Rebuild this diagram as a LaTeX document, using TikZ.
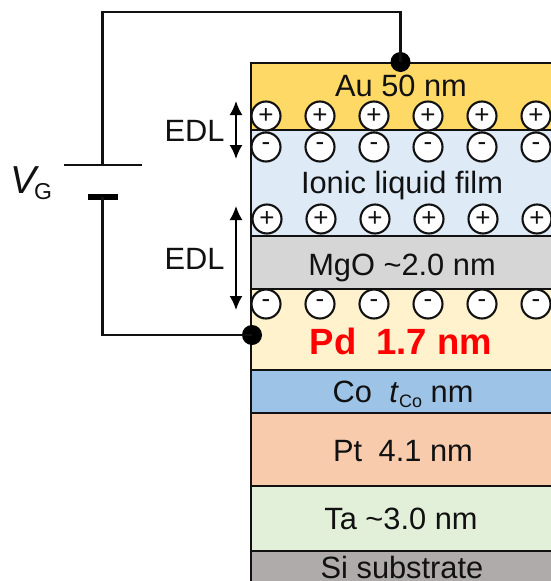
\documentclass[tikz,border=0pt]{standalone}
\usepackage{fontspec}
\setmainfont{Liberation Sans}
\usetikzlibrary{arrows.meta}
\definecolor{inkc}{HTML}{111111}
\tikzset{
  layer/.style={draw=inkc,line width=2pt},
  lbl/.style={font=\fontsize{30.8}{33}\selectfont,text=inkc,inner sep=0pt,anchor=base},
  ion/.style={circle,draw=inkc,line width=2.1pt,fill=white,minimum size=29pt,inner sep=0pt,font=\fontsize{26}{26}\selectfont,text=inkc},
  wire/.style={draw=inkc,line width=2.2pt},
  dot/.style={circle,fill=black,minimum size=20pt,inner sep=0pt},
  edl/.style={draw=black,line width=1.9pt,{Latex[length=14pt,width=13pt]}-{Latex[length=14pt,width=13pt]}}
}
\begin{document}
\begin{tikzpicture}[x=1pt,y=-1pt]
\useasboundingbox (0,0) rectangle (550,581);
\fill[white] (0,0) rectangle (550,581);
% layers
\path[layer,fill={rgb,255:red,255;green,217;blue,102}] (251,63) rectangle (560,130);
\path[layer,fill={rgb,255:red,222;green,235;blue,247}] (251,130) rectangle (560,236);
\path[layer,fill={rgb,255:red,214;green,214;blue,214}] (251,236) rectangle (560,289);
\path[layer,fill={rgb,255:red,255;green,242;blue,204}] (251,289) rectangle (560,370);
\path[layer,fill={rgb,255:red,157;green,195;blue,230}] (251,370) rectangle (560,413);
\path[layer,fill={rgb,255:red,248;green,203;blue,173}] (251,413) rectangle (560,486);
\path[layer,fill={rgb,255:red,226;green,240;blue,217}] (251,486) rectangle (560,551);
\path[layer,fill={rgb,255:red,175;green,171;blue,171}] (251,551) rectangle (560,600);
% ions
\foreach \n/\x in {1/266,2/320,3/374,4/428,5/482,6/536}{
  \node[ion] (pa\n) at (\x,116) {+};
  \node[ion] (ma\n) at (\x,147) {-};
  \node[ion] (pb\n) at (\x+1,219) {+};
  \node[ion] (mb\n) at (\x,304) {-};
}
% labels
\node[lbl] (au) at (401,96) {Au 50 nm};
\node[lbl] (il) at (402,193) {Ionic liquid film};
\node[lbl] (mg) at (402,275) {MgO \textasciitilde2.0 nm};
\node[lbl,font=\fontsize{36.5}{38}\selectfont\bfseries,text={rgb,255:red,255;green,0;blue,0}] (pd) at (401,354) {Pd\hspace{10pt} 1.7 nm};
\node[lbl] (co) at (403,402) {Co\hspace{9pt} \textit{t}\raisebox{-5pt}{\fontsize{18}{18}\selectfont Co} nm};
\node[lbl] (pt) at (403,461) {Pt\hspace{8pt} 4.1 nm};
\node[lbl] (ta) at (401,529) {Ta \textasciitilde3.0 nm};
\node[lbl] (si) at (402,578) {Si substrate};
\node[lbl] (e1) at (194.5,141) {EDL};
\node[lbl] (e2) at (194.5,269) {EDL};
\node[lbl,anchor=base west,font=\fontsize{39}{39}\selectfont] (vg) at (10,193) {\textit{V}\hspace{-5pt}\raisebox{-6pt}{\fontsize{23}{23}\selectfont G}};
% electrodes
\node[dot] (d1) at (400.5,62) {};
\node[dot] (d2) at (252,335) {};
% battery
\coordinate (bt) at (102.5,165);
\coordinate (bb) at (102.5,197);
\coordinate (bl) at (64,165);
\coordinate (br) at (142,165);
\coordinate (sl) at (88,197);
\coordinate (sr) at (118,197);
\draw[wire] (bl) -- (br);
\draw[draw=black,line width=6.5pt] (sl) -- (sr);
\draw[wire] (bt) |- (d1.center |- 0,12) -- (d1.center);
\draw[wire] (bb) |- (d2.center);
% EDL arrows
\coordinate (a1) at (236,101);
\coordinate (a2) at (236,159);
\coordinate (a3) at (236,206);
\coordinate (a4) at (236,310);
\draw[edl] (a1) -- (a2);
\draw[edl] (a3) -- (a4);
\end{tikzpicture}
\end{document}
